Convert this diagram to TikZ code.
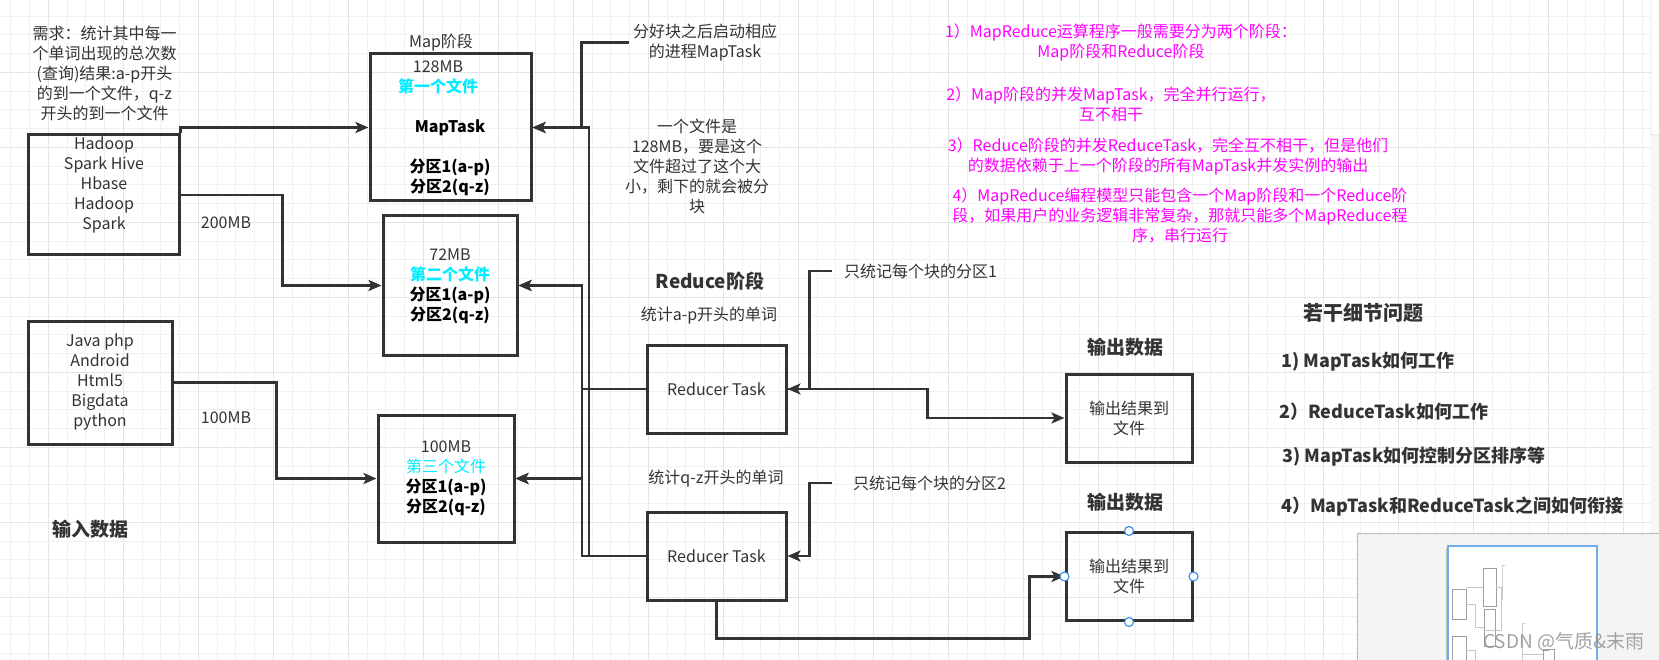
\documentclass[tikz,border=0pt]{standalone}
\usepackage{fontspec}
\setmainfont{Noto Sans CJK SC}
\usepackage{tikz}
\usetikzlibrary{arrows.meta,calc,positioning}
\definecolor{mydark}{RGB}{51,51,51}
\definecolor{mycyan}{RGB}{0,238,255}
\definecolor{mymagenta}{RGB}{255,0,255}
\definecolor{myblue}{RGB}{66,146,230}
\definecolor{mygrid}{RGB}{241,241,241}
\definecolor{mygridmajor}{RGB}{229,229,229}
\definecolor{mypanel}{RGB}{244,244,244}
\tikzstyle{box}=[draw=mydark,line width=3pt,inner sep=0pt]
\tikzstyle{txt}=[text=mydark,align=center,inner sep=0pt,font=\fontsize{16}{20}\selectfont]
\tikzstyle{heading}=[text=mydark,inner sep=0pt,font=\fontsize{19}{24}\selectfont\bfseries]
\tikzstyle{ask}=[text=mydark,inner sep=0pt,anchor=west,font=\fontsize{18}{22}\selectfont\bfseries]
\tikzstyle{note}=[text=mymagenta,align=center,inner sep=0pt,font=\fontsize{16}{20}\selectfont]
\tikzstyle{wire}=[draw=mydark,line width=2.5pt]
\tikzstyle{arr}=[wire,-{Stealth[length=13pt,width=11pt,inset=3pt]}]
\tikzstyle{grip}=[circle,draw=myblue,fill=white,line width=1.2pt,minimum size=9pt,inner sep=0pt]
\tikzstyle{thumb}=[draw=gray!75,line width=1pt]
\newcommand{\filetag}[1]{{\bfseries\color{mycyan}#1}}
\newcommand{\parttag}[1]{{\bfseries\color{black}#1}}

\begin{document}
\begin{tikzpicture}[x=1pt,y=-1pt]
\useasboundingbox (0,0) rectangle (1659,660);
\fill[white] (0,0) rectangle (1659,660);
\foreach \i in {0,...,88}
  \draw[mygrid,line width=1pt] ({10.8+18.75*\i},0) -- ({10.8+18.75*\i},660);
\foreach \i in {0,...,34}
  \draw[mygrid,line width=1pt] (0,{16.05+18.75*\i}) -- (1659,{16.05+18.75*\i});
\foreach \i in {0,...,21}
  \draw[mygridmajor,line width=1pt] ({48.3+75*\i},0) -- ({48.3+75*\i},660);
\foreach \i in {1,...,8}
  \draw[mygridmajor,line width=1pt] (0,{-2.7+75*\i}) -- (1659,{-2.7+75*\i});

\node[txt] (need) at (104.5,73) {需求：统计其中每一\\个单词出现的总次数\\(查询)结果:a-p开头\\的到一个文件，q-z\\开头的到一个文件};
\node[box,minimum width=151pt,minimum height=120pt] (in1) at (103.5,195) {};
\node[txt] (in1t) at (104,185) {Hadoop\\Spark Hive\\Hbase\\Hadoop\\Spark};
\node[box,txt,minimum width=144pt,minimum height=123pt] (in2) at (100,382.5) {Java php\\Android\\Html5\\Bigdata\\python};
\node[txt] (size1) at (226,223) {200MB};
\node[txt] (size2) at (226,418) {100MB};
\node[heading] (inhead) at (90,529) {输入数据};

\node[txt] (mapstage) at (441,43) {Map阶段};
\node[box,minimum width=161pt,minimum height=147pt] (m1) at (450.5,127.5) {};
\node[txt] (m1a) at (438,77.5) {128MB\\\filetag{第一个文件}};
\node[txt] (m1b) at (450,158) {\parttag{MapTask}\\[20pt]\parttag{分区1(a-p)}\\\parttag{分区2(q-z)}};
\node[box,minimum width=134pt,minimum height=139pt] (m2) at (450,285.5) {};
\node[txt] (m2t) at (450,286.5) {72MB\\\filetag{第二个文件}\\\parttag{分区1(a-p)}\\\parttag{分区2(q-z)}};
\node[box,minimum width=136pt,minimum height=127pt] (m3) at (446,478.5) {};
\node[txt] (m3t) at (446,478) {100MB\\{\color{mycyan}第三个文件}\\\parttag{分区1(a-p)}\\\parttag{分区2(q-z)}};

\draw[arr] (in1.north east) |- (m1.west);
\draw[arr] (in1.east) -- ++(102,0) |- (m2.west);
\draw[arr] (in2.east) -- ++(103,0) |- (m3.west);

\node[txt,inner xsep=4pt] (split) at (705,42.5) {分好块之后启动相应\\的进程MapTask};
\node[txt] (blocknote) at (697,166) {一个文件是\\128MB，要是这个\\文件超过了这个大\\小，剩下的就会被分\\块};
\draw[wire] (split.west) -| ($(m1.east)+(49,0)$);

\node[heading] (redstage) at (710,281) {Reduce阶段};
\node[txt] (ap) at (709,316) {统计a-p开头的单词};
\node[box,txt,minimum width=139pt,minimum height=88pt] (r1) at (716.5,389) {Reducer Task};
\node[txt] (qz) at (716,479) {统计q-z开头的单词};
\node[box,txt,minimum width=139pt,minimum height=88pt] (r2) at (716.5,556) {Reducer Task};

\coordinate (busa) at (582,0);
\coordinate (busb) at (589,0);
\draw[arr] (r1.west) -- (r1.west -| busa) |- (m2.east);
\draw[arr] (r1.west) -- (r1.west -| busa) |- (m3.east);
\draw[arr] (r1.west) -- (r1.west -| busb) |- (m1.east);
\draw[arr] (r2.west) -- (r2.west -| busb) |- (m1.east);
\draw[arr] (r2.west) -- (r2.west -| busa) |- (m2.east);
\draw[arr] (r2.west) -- (r2.west -| busa) |- (m3.east);

\node[txt,anchor=west,inner xsep=12pt] (p1) at (832,271) {只统记每个块的分区1};
\node[txt,anchor=west,inner xsep=21pt] (p2) at (832,483) {只统记每个块的分区2};
\draw[arr] (p1.west) -| ($(r1.east)+(22,0)$) -- (r1.east);
\draw[arr] (p2.west) -| ($(r2.east)+(22,0)$) -- (r2.east);

\node[heading] (outh1) at (1125,347) {输出数据};
\node[box,txt,minimum width=126pt,minimum height=88pt] (o1) at (1129,418) {输出结果到\\文件};
\node[heading] (outh2) at (1125,502) {输出数据};
\node[box,txt,minimum width=126pt,minimum height=88pt] (o2) at (1129,576.5) {输出结果到\\文件};
\draw[arr] (r1.east) -- ++(140,0) |- (o1.west);
\draw[arr] (r2.south) -- ++(0,37) -- ++(313,0) |- (o2.west);
\foreach \a in {north,south,east,west}
  \node[grip] (o2\a) at (o2.\a) {};

\node[note] (n1) at (1121,42) {1）MapReduce运算程序一般需要分为两个阶段：\\Map阶段和Reduce阶段};
\node[note] (n2) at (1111,104) {2）Map阶段的并发MapTask，完全并行运行，\\互不相干};
\node[note] (n3) at (1168,156) {3）Reduce阶段的并发ReduceTask，完全互不相干，但是他们\\的数据依赖于上一个阶段的所有MapTask并发实例的输出};
\node[note] (n4) at (1180,216) {4）MapReduce编程模型只能包含一个Map阶段和一个Reduce阶\\段，如果用户的业务逻辑非常复杂，那就只能多个MapReduce程\\序，串行运行};

\node[heading,font=\fontsize{20}{24}\selectfont\bfseries] (qhead) at (1363,313) {若干细节问题};
\node[ask] (q1) at (1281,362) {1) MapTask如何工作};
\node[ask] (q2) at (1279,412) {2）ReduceTask如何工作};
\node[ask] (q3) at (1282,457) {3) MapTask如何控制分区排序等};
\node[ask] (q4) at (1281,507) {4）MapTask和ReduceTask之间如何衔接};

\fill[gray!6] (1651,0) rectangle (1659,660);
\draw[gray!60,fill=white,rounded corners=1pt] (1651,-3) rectangle (1663,135);
\draw[gray!55,fill=mypanel,line width=1pt] (1357,533) rectangle (1665,665);
\draw[gray!50,line width=0.8pt] (1446,548) -- (1446,665);
\draw[myblue!75,fill=white,line width=1.5pt] (1448,546) rectangle (1597,665);
\draw[thumb] (1452,589) rectangle (1466,619);
\draw[thumb] (1483,568) rectangle (1496,606);
\draw[thumb] (1484,609) rectangle (1495,646);
\draw[thumb] (1452,636) rectangle (1466,665);
\draw[thumb] (1543,649) rectangle (1554,665);
\draw[thumb,gray!45] (1466,587) -- (1483,587);
\draw[thumb,gray!45] (1466,604) -- (1475,604) -- (1475,627) -- (1484,627);
\draw[thumb,gray!45] (1496,587) -- (1501,587) -- (1501,630) -- (1484,630);
\draw[thumb,gray!40] (1505,565) -- (1502,565) -- (1502,600);
\draw[thumb,gray!45] (1466,650) -- (1475,650) -- (1475,665);
\draw[thumb,gray!40] (1525,623) -- (1522,623) -- (1522,665);
\draw[thumb,gray!45] (1522,654) -- (1543,654);
\node[text=gray!85,opacity=0.85,anchor=west,inner sep=0pt,font=\fontsize{19}{19}\selectfont] (mark) at (1483,642) {CSDN @气质\&末雨};
\end{tikzpicture}
\end{document}
